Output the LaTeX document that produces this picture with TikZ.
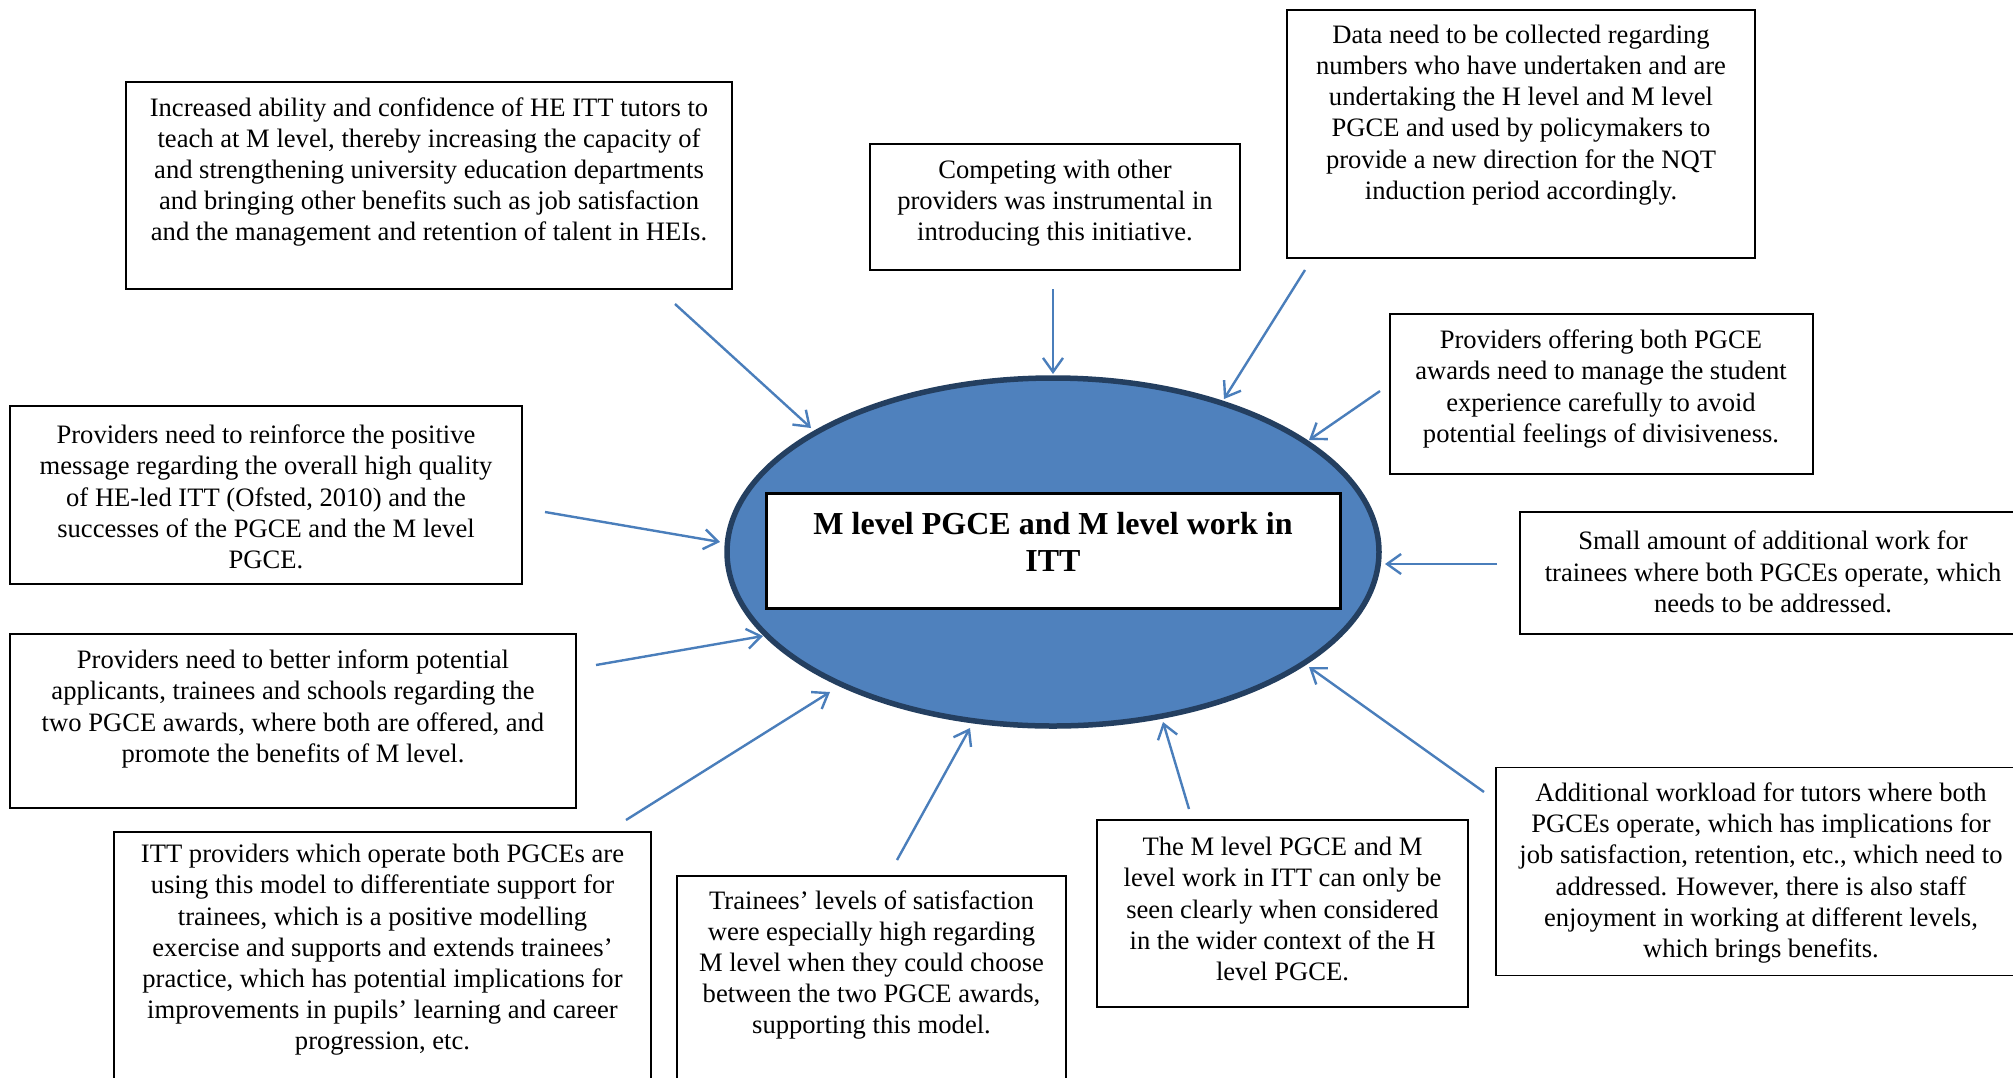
\documentclass[tikz,border=0pt]{standalone}
\usepackage{fontspec}
\setmainfont{Liberation Serif}
\usetikzlibrary{shapes.geometric,arrows.meta}
\definecolor{ellfill}{HTML}{4F81BD}
\definecolor{elldraw}{HTML}{243F60}
\definecolor{arrowc}{HTML}{4A7EBB}
\tikzset{
  boxshape/.style={draw=black, line width=1.8pt, inner sep=0pt, fill=white},
  boxtext/.style={align=center, inner sep=0pt, yshift=-3pt, font=\fontsize{26.6}{31.2}\selectfont},
  pointer/.style={draw=arrowc, line width=2.4pt, -{Straight Barb[length=14pt,width=20pt,line width=2.4pt]}},
}
\begin{document}
\begin{tikzpicture}[x=1pt,y=-1pt]
\useasboundingbox (0,0) rectangle (2013,1077);
\fill[white] (0,0) rectangle (2013,1077);

% central ellipse and title box
\node[ellipse, draw=elldraw, fill=ellfill, line width=5.5pt, minimum width=652pt, minimum height=348pt, inner sep=0pt] (ell) at (1053,552) {};
\node[boxshape, line width=2.6pt, minimum width=574pt, minimum height=115pt] (titlebox) at (1053.5,551) {};
\node[align=center, inner sep=0pt, font=\fontsize{32}{37}\selectfont\bfseries] (title) at (1053,542) {M level PGCE and M level work in\\ITT};

% outer boxes
\node[boxshape, minimum width=606pt, minimum height=207pt] (b1) at (429,185.5) {};
\node[boxtext] (t1) at (429,169) {Increased ability and confidence of HE ITT tutors to\\teach at M level, thereby increasing the capacity of\\and strengthening university education departments\\and bringing other benefits such as job satisfaction\\and the management and retention of talent in HEIs.};

\node[boxshape, minimum width=370pt, minimum height=126pt] (b2) at (1055,207) {};
\node[boxtext] (t2) at (1055,200) {Competing with other\\providers was instrumental in\\introducing this initiative.};

\node[boxshape, minimum width=468pt, minimum height=248pt] (b3) at (1521,134) {};
\node[boxtext] (t3) at (1521,112) {Data need to be collected regarding\\numbers who have undertaken and are\\undertaking the H level and M level\\PGCE and used by policymakers to\\provide a new direction for the NQT\\induction period accordingly.};

\node[boxshape, minimum width=423pt, minimum height=160pt] (b4) at (1601.5,394) {};
\node[boxtext] (t4) at (1601,386) {Providers offering both PGCE\\awards need to manage the student\\experience carefully to avoid\\potential feelings of divisiveness.};

\node[boxshape, minimum width=510pt, minimum height=122pt] (b5) at (1775,573) {};
\node[boxtext] (t5) at (1773,569) {Small amount of additional work for\\trainees where both PGCEs operate, which\\needs to be addressed.};

\node[boxshape, minimum width=534pt, minimum height=208pt] (b6) at (1763,871.5) {};
\node[boxtext] (t6) at (1761,870) {Additional workload for tutors where both\\PGCEs operate, which has implications for\\job satisfaction, retention, etc., which need to\\addressed. However, there is also staff\\enjoyment in working at different levels,\\which brings benefits.};

\node[boxshape, minimum width=371pt, minimum height=187pt] (b7) at (1282.5,913.5) {};
\node[boxtext] (t7) at (1282.5,906) {The M level PGCE and M\\level work in ITT can only be\\seen clearly when considered\\in the wider context of the H\\level PGCE.};

\node[boxshape, minimum width=389pt, minimum height=230pt] (b8) at (871.5,991) {};
\node[boxtext] (t8) at (871.5,962) {Trainees’ levels of satisfaction\\were especially high regarding\\M level when they could choose\\between the two PGCE awards,\\supporting this model.};

\node[boxshape, minimum width=537pt, minimum height=270pt] (b9) at (382.5,967) {};
\node[boxtext] (t9) at (382.5,947) {ITT providers which operate both PGCEs are\\using this model to differentiate support for\\trainees, which is a positive modelling\\exercise and supports and extends trainees’\\practice, which has potential implications for\\improvements in pupils’ learning and career\\progression, etc.};

\node[boxshape, minimum width=566pt, minimum height=174pt] (b10) at (293,721) {};
\node[boxtext] (t10) at (293,706) {Providers need to better inform potential\\applicants, trainees and schools regarding the\\two PGCE awards, where both are offered, and\\promote the benefits of M level.};

\node[boxshape, minimum width=512pt, minimum height=178pt] (b11) at (266,495) {};
\node[boxtext] (t11) at (266,494) {Providers need to reinforce the positive\\message regarding the overall high quality\\of HE-led ITT (Ofsted, 2010) and the\\successes of the PGCE and the M level\\PGCE.};

% connector end points
\coordinate (s1) at (675,304);  \coordinate (e1) at (811,428);
\coordinate (s2) at (1053,289); \coordinate (e2) at (1053,374);
\coordinate (s3) at (1305,270); \coordinate (e3) at (1224,399);
\coordinate (s4) at (1380,391); \coordinate (e4) at (1309,440);
\coordinate (s5) at (1497,564); \coordinate (e5) at (1385,564);
\coordinate (s6) at (1484,792); \coordinate (e6) at (1309,667);
\coordinate (s7) at (1189,809); \coordinate (e7) at (1163,722);
\coordinate (s8) at (897,860);  \coordinate (e8) at (970,728);
\coordinate (s9) at (626,820);  \coordinate (e9) at (830,692);
\coordinate (s10) at (596,665); \coordinate (e10) at (763,636);
\coordinate (s11) at (545,512); \coordinate (e11) at (720,542);

\foreach \i in {1,...,11} { \draw[pointer] (s\i) -- (e\i); }
\end{tikzpicture}
\end{document}
